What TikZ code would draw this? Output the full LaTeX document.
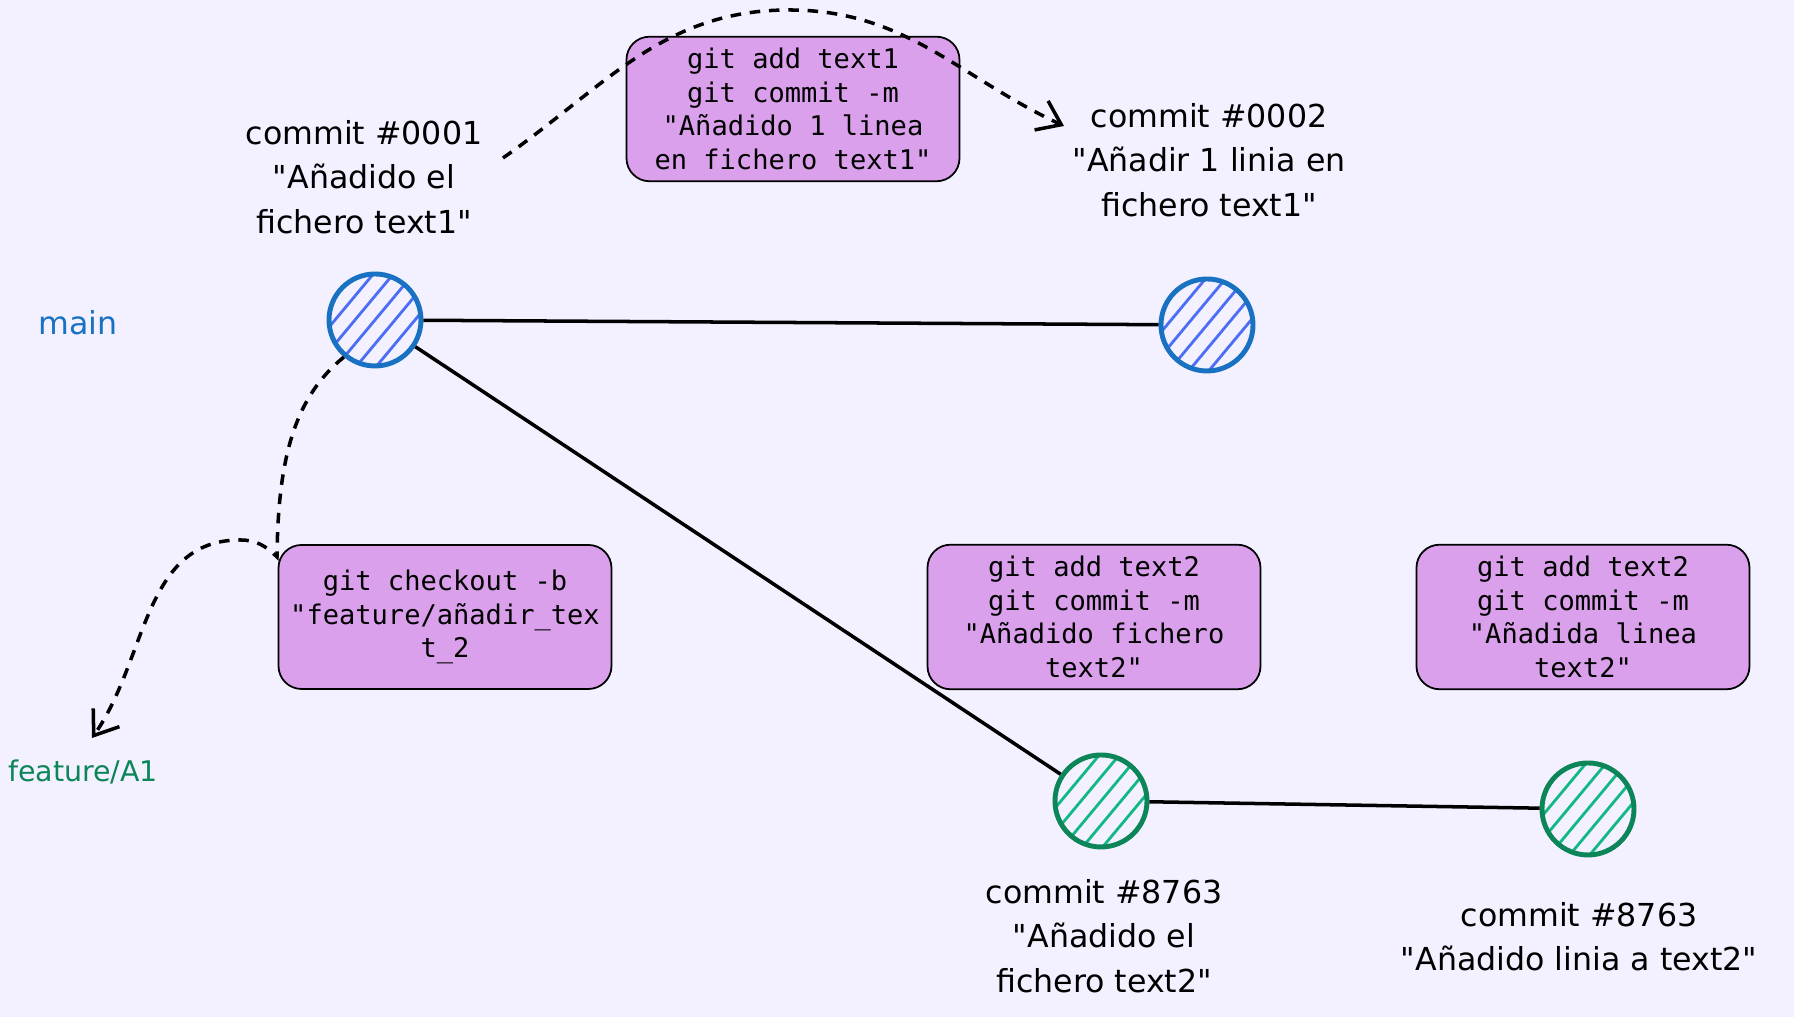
\documentclass[tikz,border=0pt]{standalone}
\usepackage{fontspec}
\setmainfont{DejaVu Sans}
\setmonofont{DejaVu Sans Mono}
\usetikzlibrary{calc,arrows.meta,positioning}
\definecolor{paper}{RGB}{243,241,255}
\definecolor{mainstroke}{RGB}{25,113,194}
\definecolor{mainhatch}{RGB}{76,110,245}
\definecolor{featstroke}{RGB}{12,133,89}
\definecolor{feathatch}{RGB}{18,184,134}
\definecolor{boxfill}{RGB}{218,160,236}
\newcommand{\dq}{\textquotedbl}
\tikzset{
    hatch/.style={path picture={
        \foreach \k in {-0.8,-0.6,...,0.81}
            \draw[#1, line width=0.8pt] ($(path picture bounding box.center)+(\k,0)+(-0.5,-0.6)$) -- ++(1.0,1.2);}},
    maincommit/.style={circle, draw=mainstroke, line width=1.4pt, minimum size=9.2mm, hatch=mainhatch},
    featcommit/.style={circle, draw=featstroke, line width=1.4pt, minimum size=9.2mm, hatch=feathatch},
    msg/.style={align=center, font=\fontsize{9}{12.6}\selectfont},
    cmdbox/.style={draw, rounded corners=2.3mm, fill=boxfill, line width=0.5pt, minimum width=3.33cm, minimum height=1.44cm, align=center, font=\ttfamily\fontsize{7.7}{9.5}\selectfont},
    link/.style={draw, line width=1pt},
    jump/.style={draw, line width=1pt, dash pattern=on 3pt off 2.5pt, -{Straight Barb[length=2.2mm, width=3.2mm]}}
}
\begin{document}
\begin{tikzpicture}
    \fill[paper] (0,0) rectangle (17.94,10.17);
    \useasboundingbox (0,0) rectangle (17.94,10.17);

    % Commits
    \node[maincommit] (c1) at (3.75,6.97) {};
    \node[maincommit] (c2) at (12.07,6.92) {};
    \node[featcommit] (c3) at (11.01,2.16) {};
    \node[featcommit] (c4) at (15.88,2.08) {};

    % Messages
    \node[msg] (m1) at (3.64,8.40) {commit \#0001\\\dq Añadido el\\fichero text1\dq};
    \node[msg] (m2) at (12.09,8.57) {commit \#0002\\\dq Añadir 1 linia en\\fichero text1\dq};
    \node[msg] (m3) at (11.04,0.81) {commit \#8763\\\dq Añadido el\\fichero text2\dq};
    \node[msg] (m4) at (15.79,0.80) {commit \#8763\\\dq Añadido linia a text2\dq};

    % Branches
    \node[msg, text=mainstroke] (bmain) at (0.78,6.94) {main};
    \node[msg, text=featstroke, font=\fontsize{8.1}{10}\selectfont] (bfeat) at (0.83,2.45) {feature/A1};

    % Commands
    \node[cmdbox] (k1) at (7.93,9.08) {git add text1\\git commit -m\\"Añadido 1 linea\\en fichero text1"};
    \node[cmdbox] (k2) at (4.45,4.00) {git checkout -b\\"feature/añadir\_tex\\t\_2};
    \node[cmdbox] (k3) at (10.94,4.00) {git add text2\\git commit -m\\"Añadido fichero\\text2"};
    \node[cmdbox] (k4) at (15.83,4.00) {git add text2\\git commit -m\\"Añadida linea\\text2"};

    % edges
    \draw[link] (c1) -- (c2);
    \draw[link] (c1) -- (c3);
    \draw[link] (c3) -- (c4);

    % dashed arrows
    \coordinate (s1) at (5.03,8.59);
    \coordinate (top1) at (7.89,10.07);
    \coordinate (t1) at (10.64,8.91);
    \draw[jump] (s1) to[out=35,in=180] (top1) to[out=0,in=155] (t1);
    \coordinate (bend2) at (2.77,4.60);
    \coordinate (hook2) at (2.40,4.77);
    \coordinate (t2) at (0.92,2.79);
    \draw[jump] (c1.230) .. controls (2.95,6.2) and (2.78,5.6) .. (bend2)
        to[out=135,in=0] (hook2) to[out=180,in=55] (t2);
\end{tikzpicture}
\end{document}
